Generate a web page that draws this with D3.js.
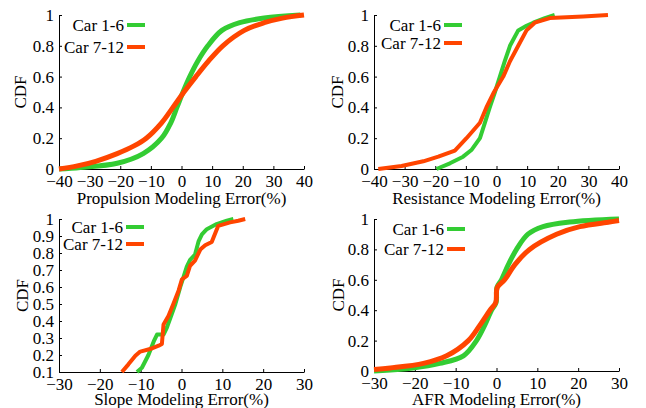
<!DOCTYPE html>
<html>
<head>
<meta charset="utf-8">
<script src="https://cdn.jsdelivr.net/npm/d3@7"></script>
<style>
  body { margin: 0; background: #fff; }
  text { font-family: "Liberation Serif", "Times New Roman", serif; }
</style>
</head>
<body>
<svg id="chart" width="646" height="408"></svg>
<script>
// ---- data ----
var seriesNames = ["Car 1-6", "Car 7-12"]
var colors = ["#33cc33", "#ff4500"]

// Propulsion
var propCdf1 = [0, 0.01, 0.037, 0.1, 0.2, 0.3, 0.4, 0.5, 0.6, 0.7, 0.8, 0.9, 0.95, 0.98, 1]
var propErr1 = [-40, -33, -21, -12.5, -6.5, -3.5, -1.5, 0.5, 2.7, 5.3, 8.6, 13.2, 19, 27, 38.8]
var propCdf2 = [0, 0.02, 0.05, 0.1, 0.15, 0.2, 0.3, 0.4, 0.5, 0.6, 0.7, 0.8, 0.9, 0.95, 0.98, 1]
var propErr2 = [-40, -34, -28, -21, -15.5, -11.5, -6.5, -2.8, 0.8, 4.7, 8.8, 13.5, 20.5, 27, 33, 40]

// Resistance
var resCdf1 = [0, 0.037, 0.08, 0.123, 0.2, 0.3, 0.4, 0.5, 0.6, 0.7, 0.8, 0.9, 0.93, 0.95, 0.98, 1]
var resErr1 = [-19.6, -15.2, -10.9, -8.2, -5.4, -3.8, -2.2, -0.5, 1.1, 2.7, 4.4, 7.1, 9.8, 12, 15.8, 19]
var resCdf2 = [0, 0.02, 0.05, 0.08, 0.12, 0.2, 0.3, 0.4, 0.5, 0.6, 0.7, 0.8, 0.9, 0.95, 0.98, 0.99, 1]
var resErr2 = [-38.6, -31, -23.9, -19, -13.6, -9.8, -5.4, -3.3, -0.8, 2.2, 4.4, 7.1, 9.8, 12.5, 17.4, 28.3, 36.4]

// Slope
var slopeCdf1 = [0.1, 0.125, 0.2, 0.28, 0.32, 0.32, 0.36, 0.44, 0.5, 0.6, 0.66, 0.72, 0.76, 0.79, 0.87, 0.91, 0.94, 0.97, 0.99, 1]
var slopeErr1 = [-10.9, -9.7, -8.1, -6.8, -6, -4.4, -3.6, -2.4, -1.5, -0.3, 0.5, 1.3, 2.1, 3.3, 4.2, 5, 6.2, 8.6, 11.1, 12.7]
var slopeCdf2 = [0.1, 0.145, 0.195, 0.22, 0.235, 0.255, 0.265, 0.38, 0.43, 0.5, 0.58, 0.645, 0.665, 0.725, 0.755, 0.82, 0.845, 0.865, 0.96, 0.98, 0.99, 1]
var slopeErr2 = [-14.6, -13, -11.3, -10.1, -7.7, -5.6, -4.8, -4.4, -3.2, -2, -0.7, 0.1, 1.3, 2.1, 3.3, 4.6, 5.8, 7.4, 9, 11.9, 13.9, 15.6]

// AFR
var afrCdf1 = [0, 0.02, 0.05, 0.1, 0.2, 0.3, 0.4, 0.45, 0.55, 0.6, 0.7, 0.8, 0.9, 0.95, 0.98, 1]
var afrErr1 = [-30, -20.4, -13.9, -8.1, -4.9, -2.9, -1.2, -0.1, 0.1, 1.2, 2.9, 4.9, 7.7, 11.4, 17.9, 30]
var afrCdf2 = [0.01, 0.02, 0.05, 0.1, 0.2, 0.3, 0.4, 0.45, 0.55, 0.6, 0.7, 0.8, 0.9, 0.95, 0.98, 0.99]
var afrErr2 = [-30, -26, -17.9, -12.2, -6.9, -4.1, -1.6, -0.2, 0.2, 2, 4.5, 8.1, 14.7, 20.4, 27.7, 30]

var ticks40 = [-40, -30, -20, -10, 0, 10, 20, 30, 40]
var ticks30 = [-30, -20, -10, 0, 10, 20, 30]
var cdfTicks = [0, 0.2, 0.4, 0.6, 0.8, 1]
var cdfTicksSlope = [0.1, 0.2, 0.3, 0.4, 0.5, 0.6, 0.7, 0.8, 0.9, 1]

function zip(xs, ys) { return xs.map((x, i) => ({x: x, y: ys[i]})) }

var panels = [
  {left: 59, right: 304, top: 15, bottom: 169, xDomain: [-40, 40], yDomain: [0, 1], xTicks: ticks40, yTicks: cdfTicks,
   label: "Propulsion Modeling Error(%)", linear: false, yLab: 39, leg: [25, 47], legX: 127, labY: 35,
   series: [zip(propErr1, propCdf1), zip(propErr2, propCdf2)]},
  {left: 374, right: 619, top: 15, bottom: 169, xDomain: [-40, 40], yDomain: [0, 1], xTicks: ticks40, yTicks: cdfTicks,
   label: "Resistance Modeling Error(%)", linear: true, yLab: 37, leg: [25, 43], legX: 444, labY: 35,
   series: [zip(resErr1, resCdf1), zip(resErr2, resCdf2)]},
  {left: 59, right: 304, top: 219, bottom: 372, xDomain: [-30, 30], yDomain: [0.1, 1], xTicks: ticks30, yTicks: cdfTicksSlope,
   label: "Slope Modeling Error(%)", linear: true, yLab: 37, leg: [227, 244], legX: 126, labY: 33,
   series: [zip(slopeErr1, slopeCdf1), zip(slopeErr2, slopeCdf2)]},
  {left: 374, right: 619, top: 219, bottom: 371, xDomain: [-30, 30], yDomain: [0, 1], xTicks: ticks30, yTicks: cdfTicks,
   label: "AFR Modeling Error(%)", linear: false, yLab: 36, leg: [229, 249], legX: 447, labY: 34,
   series: [zip(afrErr1, afrCdf1), zip(afrErr2, afrCdf2)]}
]

var svg = d3.select("#chart")

panels.forEach(function(p) {
  var g = svg.append("g")
  var xScale = d3.scaleLinear().domain(p.xDomain).range([p.left, p.right])
  var yScale = d3.scaleLinear().domain(p.yDomain).range([p.bottom, p.top])

  // axes with inward ticks
  var xAxisGen = d3.axisBottom(xScale).tickValues(p.xTicks).tickSizeInner(-3).tickSizeOuter(0)
    .tickPadding(8).tickFormat(d3.format("d"))
  var xAxis = g.append("g").attr("transform", `translate(0,${p.bottom})`).call(xAxisGen)
  var yAxisGen = d3.axisLeft(yScale).tickValues(p.yTicks).tickSizeInner(-3).tickSizeOuter(0)
    .tickPadding(7).tickFormat(d => d3.format("~g")(d))
  var yAxis = g.append("g").attr("transform", `translate(${p.left},0)`).call(yAxisGen)

  ;[xAxis, yAxis].forEach(function(a) {
    a.attr("font-family", null)
    a.selectAll("text").style("font-size", "17px").attr("fill", "#000")
    a.selectAll("line").attr("stroke", "#000")
    a.select(".domain").attr("stroke", "#000")
  })
  xAxis.selectAll("text").attr("dy", "0.71em").attr("y", 6)
  yAxis.selectAll("text").attr("x", -5)

  // axis labels
  g.append("text")
    .attr("x", (p.left + p.right) / 2)
    .attr("y", p.bottom + p.labY)
    .attr("text-anchor", "middle")
    .style("font-size", "17px")
    .text(p.label)
  g.append("text")
    .attr("transform", `translate(${p.left - p.yLab},${(p.top + p.bottom) / 2}) rotate(-90)`)
    .attr("text-anchor", "middle")
    .attr("dy", "0.35em")
    .style("font-size", "17px")
    .text("CDF")

  // curves
  var line = d3.line()
    .x(d => xScale(d.x))
    .y(d => yScale(d.y))
    .curve(p.linear ? d3.curveLinear : d3.curveCatmullRom.alpha(0.5))

  p.series.forEach(function(s, i) {
    g.append("path")
      .datum(s)
      .attr("d", line)
      .attr("fill", "none")
      .attr("stroke", colors[i])
      .attr("stroke-width", p.linear ? 4 : 5)
      .attr("stroke-linejoin", "round")
  })

  // legend
  seriesNames.forEach(function(name, i) {
    var ly = p.leg[i]
    g.append("line")
      .attr("x1", p.legX).attr("x2", p.legX + 18)
      .attr("y1", ly).attr("y2", ly)
      .attr("stroke", colors[i]).attr("stroke-width", 4)
    g.append("text")
      .attr("x", p.legX - 3)
      .attr("y", ly)
      .attr("dy", "0.35em")
      .attr("text-anchor", "end")
      .style("font-size", "17px")
      .text(name)
  })
})
</script>
</body>
</html>
